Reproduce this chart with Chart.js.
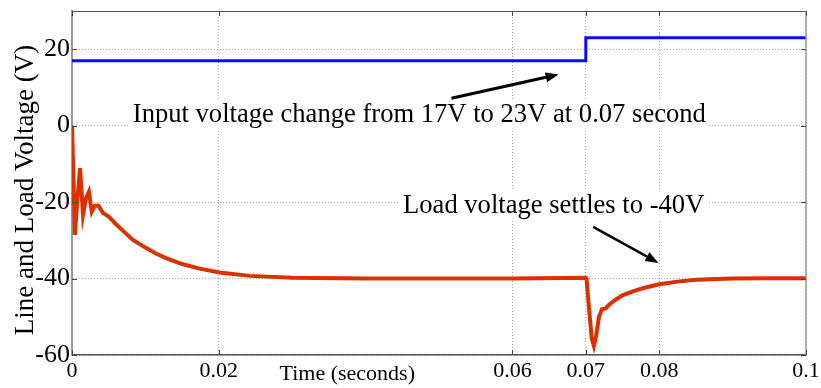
<!DOCTYPE html>
<html>
<head>
<meta charset="utf-8">
<script src="https://cdn.jsdelivr.net/npm/chart.js@4.4.0/dist/chart.umd.min.js"></script>
<style>
  body { margin: 0; background: #fff; }
  canvas { display: block; }
  #precarga { font-family: "Liberation Serif"; position: absolute; left: -9999px; }
</style>
</head>
<body>
<span id="precarga">Input 0.07 -40V</span>
<canvas id="graficoVoltaje" width="821" height="388"></canvas>
<script>
// tension de entrada (escalon de 17V a 23V)
const tiempoEntrada = [0, 0.07, 0.07, 0.1];
const voltajeEntrada = [17, 17, 23, 23];

// tension en la carga
const tiempoCarga = [
  0, 0.0002, 0.0004, 0.0007, 0.0011, 0.0015, 0.0019, 0.0023, 0.0027, 0.0031,
  0.0036, 0.0042, 0.0050, 0.0060, 0.0070, 0.0083, 0.0100, 0.0115, 0.0129, 0.0150,
  0.0174, 0.0201, 0.0242, 0.0300, 0.0400, 0.0500, 0.0600, 0.0700, 0.0701, 0.0704,
  0.0708, 0.0711, 0.0714, 0.0718, 0.0722, 0.0727, 0.0732, 0.0740, 0.0750, 0.0765,
  0.0780, 0.0800, 0.0825, 0.0850, 0.0900, 0.0950, 0.1000
];
const voltajeCarga = [
  0, -14, -28.6, -20, -11.1, -23.3, -19, -17.3, -22.5, -21,
  -20.9, -22.8, -23.8, -25.8, -27.6, -29.9, -31.9, -33.5, -34.7, -36.2,
  -37.4, -38.4, -39.3, -39.8, -40, -40, -40, -39.8, -40, -47,
  -55.5, -57.6, -55, -50, -48, -47.8, -46.8, -45.6, -44.4, -43.3,
  -42.4, -41.5, -40.8, -40.3, -40, -39.9, -39.9
];

const ticksX = [0, 0.02, 0.06, 0.07, 0.08, 0.1];
const etiquetasX = ['0', '0.02', '0.06', '0.07', '0.08', '0.1'];
const ticksY = [-60, -40, -20, 0, 20];
const etiquetasY = ['-60', '-40', '-20', '0', '20'];

const fuente = '"Liberation Serif", "Times New Roman", serif';

function puntos(xs, ys) {
  return xs.map((x, i) => ({ x: x, y: ys[i] }));
}

function flecha(ctx, x1, y1, x2, y2, grosor) {
  const ang = Math.atan2(y2 - y1, x2 - x1);
  const largo = 13, ancho = 5;
  const bx = x2 - largo * Math.cos(ang), by = y2 - largo * Math.sin(ang);
  ctx.lineWidth = grosor;
  ctx.beginPath();
  ctx.moveTo(x1, y1);
  ctx.lineTo(bx, by);
  ctx.stroke();
  ctx.beginPath();
  ctx.moveTo(x2, y2);
  ctx.lineTo(bx + ancho * Math.sin(ang), by - ancho * Math.cos(ang));
  ctx.lineTo(bx - ancho * Math.sin(ang), by + ancho * Math.cos(ang));
  ctx.closePath();
  ctx.fill();
}

function textoConFondo(ctx, texto, x, y) {
  const w = ctx.measureText(texto).width;
  ctx.fillStyle = '#fff';
  ctx.fillRect(x - 3, y - 22, w + 6, 29);
  ctx.fillStyle = '#000';
  ctx.fillText(texto, x, y);
}

const anotaciones = {
  id: 'anotaciones',
  afterDatasetsDraw(chart) {
    const { ctx, chartArea: area, scales: { x, y } } = chart;
    ctx.save();

    // marco superior y derecho
    ctx.strokeStyle = '#555';
    ctx.lineWidth = 1;
    ctx.beginPath();
    ctx.moveTo(area.left, area.top + 0.5);
    ctx.lineTo(area.right, area.top + 0.5);
    ctx.stroke();
    ctx.strokeStyle = '#999';
    ctx.lineWidth = 1.5;
    ctx.beginPath();
    ctx.moveTo(area.right, area.top);
    ctx.lineTo(area.right, area.bottom);
    ctx.stroke();

    // marcas hacia adentro
    ctx.strokeStyle = '#444';
    ctx.lineWidth = 1;
    ticksX.forEach(v => {
      const px = Math.round(x.getPixelForValue(v)) + 0.5;
      ctx.beginPath();
      ctx.moveTo(px, area.top); ctx.lineTo(px, area.top + 5);
      ctx.moveTo(px, area.bottom); ctx.lineTo(px, area.bottom - 5);
      ctx.stroke();
    });
    ticksY.forEach(v => {
      const py = Math.round(y.getPixelForValue(v)) + 0.5;
      ctx.beginPath();
      ctx.moveTo(area.left, py); ctx.lineTo(area.left + 5, py);
      ctx.moveTo(area.right, py); ctx.lineTo(area.right - 5, py);
      ctx.stroke();
    });

    ctx.fillStyle = '#000';
    ctx.textBaseline = 'alphabetic';

    // rotulo del eje y, girado
    ctx.save();
    ctx.translate(33, 190);
    ctx.rotate(-Math.PI / 2);
    ctx.font = '27px ' + fuente;
    ctx.textAlign = 'center';
    ctx.fillText('Line and Load Voltage (V)', 0, 0);
    ctx.restore();

    // rotulo del eje x, en la fila de las marcas
    ctx.font = '22px ' + fuente;
    ctx.textAlign = 'center';
    ctx.fillText('Time (seconds)', x.getPixelForValue(0.0375), area.bottom + 25);

    // textos de las anotaciones
    ctx.font = '26.6px ' + fuente;
    ctx.textAlign = 'left';
    textoConFondo(ctx, 'Input voltage change from 17V to 23V at 0.07 second',
      x.getPixelForValue(0.00828), y.getPixelForValue(1));
    textoConFondo(ctx, 'Load voltage settles to -40V',
      x.getPixelForValue(0.0451), y.getPixelForValue(-22.8));

    // flechas
    ctx.strokeStyle = '#000';
    ctx.fillStyle = '#000';
    flecha(ctx, x.getPixelForValue(0.0517), y.getPixelForValue(7.16),
      x.getPixelForValue(0.0663), y.getPixelForValue(13.4), 3);
    flecha(ctx, x.getPixelForValue(0.0710), y.getPixelForValue(-26.5),
      x.getPixelForValue(0.0799), y.getPixelForValue(-35.9), 2.5);

    ctx.restore();
  }
};

function crearGrafico() {
  const ctx = document.getElementById('graficoVoltaje').getContext('2d');

  new Chart(ctx, {
    type: 'line',
    data: {
      datasets: [{
        data: puntos(tiempoCarga, voltajeCarga),
        borderColor: '#dc3000',
        borderWidth: 4,
        pointRadius: 0,
        tension: 0,
        fill: false
      }, {
        data: puntos(tiempoEntrada, voltajeEntrada),
        borderColor: '#0a0aff',
        borderWidth: 3,
        pointRadius: 0,
        tension: 0,
        fill: false
      }]
    },
    options: {
      responsive: false,
      animation: false,
      layout: { padding: { top: 11, right: 15, left: 0, bottom: 0 } },
      plugins: {
        legend: { display: false },
        tooltip: { enabled: false }
      },
      scales: {
        x: {
          type: 'linear',
          min: 0,
          max: 0.1,
          afterBuildTicks: s => { s.ticks = ticksX.map(v => ({ value: v })); },
          afterFit: s => { s.height = 33; s.paddingLeft = 0; s.paddingRight = 0; },
          ticks: {
            autoSkip: false,
            maxRotation: 0,
            padding: 3,
            color: '#000',
            font: { family: fuente, size: 22 },
            callback: (v, i) => etiquetasX[i]
          },
          grid: { color: '#aaa', drawTicks: false, lineWidth: 1 },
          border: { color: '#555', width: 1.5, dash: [1, 2] }
        },
        y: {
          min: -60,
          max: 30,
          afterBuildTicks: s => { s.ticks = ticksY.map(v => ({ value: v })); },
          afterFit: s => { s.width = 72; s.paddingTop = 0; s.paddingBottom = 0; },
          ticks: {
            padding: 2,
            color: '#000',
            font: { family: fuente, size: 26 },
            callback: (v, i) => etiquetasY[i]
          },
          grid: { color: '#aaa', drawTicks: false, lineWidth: 1 },
          border: { color: '#999', width: 2, dash: [1, 2] }
        }
      }
    },
    plugins: [anotaciones]
  });
}

Promise.all([
  document.fonts.load('22px "Liberation Serif"'),
  document.fonts.load('26px "Liberation Serif"')
]).then(crearGrafico, crearGrafico);
</script>
</body>
</html>
